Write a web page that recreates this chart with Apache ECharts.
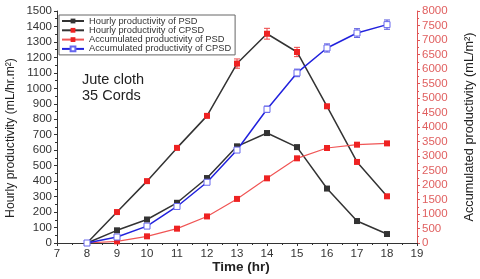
<!DOCTYPE html>
<html><head><meta charset="utf-8">
<script src="https://cdn.jsdelivr.net/npm/echarts@6/dist/echarts.min.js"></script>
<style>html,body{margin:0;padding:0;background:#fff}#c{width:480px;height:279px}</style>
</head><body><div id="c"></div>
<script>
const hours = [8, 9, 10, 11, 12, 13, 14, 15, 16, 17, 18];
const hourlyPSD = [0, 82, 152, 260, 420, 625, 711, 620, 352, 142, 58];
const hourlyCPSD = [0, 200, 400, 615, 822, 1160, 1353, 1235, 884, 524, 302];
const hourlyCPSDErr = [0, 0, 0, 0, 0, 30, 35, 30, 0, 0, 0];
const accumPSD = [0, 57, 230, 494, 916, 1520, 2230, 2920, 3275, 3390, 3435];
const accumCPSD = [0, 206, 583, 1260, 2095, 3205, 4610, 5865, 6725, 7240, 7530];
const accumCPSDErr = [0, 0, 0, 0, 0, 0, 110, 130, 140, 150, 160];
const names = ['Hourly productivity of PSD', 'Hourly productivity of CPSD', 'Accumulated productivity of PSD', 'Accumulated productivity of CPSD'];

const pairs = (ys) => hours.map((h, i) => [h, ys[i]]);
const errData = (ys, es) => hours.map((h, i) => [h, ys[i] - es[i], ys[i] + es[i]]).filter((d, i) => es[i] > 0);

function errRender(color) {
  return function (params, api) {
    const x = api.value(0);
    const lo = api.coord([x, api.value(1)]);
    const hi = api.coord([x, api.value(2)]);
    const w = 3;
    const st = { stroke: color, lineWidth: 1 };
    return { type: 'group', children: [
      { type: 'line', shape: { x1: lo[0], y1: lo[1], x2: hi[0], y2: hi[1] }, style: st },
      { type: 'line', shape: { x1: lo[0] - w, y1: lo[1], x2: lo[0] + w, y2: lo[1] }, style: st },
      { type: 'line', shape: { x1: hi[0] - w, y1: hi[1], x2: hi[0] + w, y2: hi[1] }, style: st }
    ]};
  };
}

const chart = echarts.init(document.getElementById('c'));
const txt = '#333';
const font = 'Liberation Sans, Arial, sans-serif';
const plain = (v) => String(v);
chart.setOption({
  animation: false,
  textStyle: { fontFamily: font },
  grid: { left: 57, right: 63, top: 11, bottom: 36 },
  legend: {
    data: names, orient: 'vertical', left: 59, top: 15,
    itemWidth: 22, itemHeight: 6, itemGap: 0.3,
    padding: [1.5, 4, 1.5, 2], borderColor: '#666', borderWidth: 1,
    textStyle: { fontSize: 9.3, color: '#333' }
  },
  xAxis: [{
    type: 'value', min: 7, max: 19, interval: 1, position: 'bottom',
    axisLine: { lineStyle: { color: '#333' } },
    axisTick: { inside: false, length: 3, lineStyle: { color: '#333' } },
    minorTick: { show: true, splitNumber: 2, length: 2, lineStyle: { color: '#333' } },
    axisLabel: { fontSize: 11.5, color: txt, margin: 5, formatter: plain },
    splitLine: { show: false }
  }, {
    type: 'value', min: 7, max: 19, interval: 1, position: 'top',
    axisLine: { lineStyle: { color: '#333' } },
    axisTick: { inside: true, length: 3, lineStyle: { color: '#333' } },
    minorTick: { show: false },
    axisLabel: { show: false }, splitLine: { show: false }
  }],
  yAxis: [{
    type: 'value', min: 0, max: 1500, interval: 100, position: 'left',
    axisLine: { show: true, lineStyle: { color: '#333' } },
    axisTick: { show: true, length: 3, lineStyle: { color: '#333' } },
    minorTick: { show: true, splitNumber: 2, length: 2, lineStyle: { color: '#333' } },
    axisLabel: { fontSize: 11.5, color: txt, margin: 5, formatter: plain },
    splitLine: { show: false }
  }, {
    type: 'value', min: 0, max: 8000, interval: 500, position: 'right',
    axisLine: { show: true, lineStyle: { color: '#e05555' } },
    axisTick: { show: true, length: 3, lineStyle: { color: '#e05555' } },
    minorTick: { show: true, splitNumber: 2, length: 2, lineStyle: { color: '#e05555' } },
    axisLabel: { fontSize: 11.5, color: '#e06060', margin: 5, formatter: plain },
    splitLine: { show: false }
  }],
  graphic: [{
    type: 'text', left: 82, top: 72,
    style: { text: 'Jute cloth\n35 Cords', fontSize: 14.5, lineHeight: 16, fill: '#222', fontFamily: font }
  }, {
    type: 'text', x: 11, y: 138, rotation: Math.PI / 2,
    style: { text: 'Hourly productivity (mL/hr.m²)', fontSize: 12.2, fill: '#222', fontFamily: font, align: 'center', verticalAlign: 'middle' }
  }, {
    type: 'text', x: 469, y: 127, rotation: Math.PI / 2,
    style: { text: 'Accumulated productivity (mL/m²)', fontSize: 12.7, fill: '#222', fontFamily: font, align: 'center', verticalAlign: 'middle' }
  }, {
    type: 'text', x: 241, y: 267,
    style: { text: 'Time (hr)', fontSize: 13.5, fontWeight: 'bold', fill: '#222', fontFamily: font, align: 'center', verticalAlign: 'middle' }
  }],
  series: [{
    name: names[0], type: 'line', yAxisIndex: 0, data: pairs(hourlyPSD),
    symbol: 'rect', symbolSize: 6,
    lineStyle: { color: '#333', width: 1.5 }, itemStyle: { color: '#333' }
  }, {
    name: names[1], type: 'line', yAxisIndex: 0, data: pairs(hourlyCPSD),
    symbol: 'rect', symbolSize: 6,
    lineStyle: { color: '#333', width: 1.5 }, itemStyle: { color: '#ee2222' }
  }, {
    name: names[2], type: 'line', yAxisIndex: 1, data: pairs(accumPSD),
    symbol: 'rect', symbolSize: 6,
    lineStyle: { color: '#f05555', width: 1.2 }, itemStyle: { color: '#ee2222' }
  }, {
    name: names[3], type: 'line', yAxisIndex: 1, data: pairs(accumCPSD),
    symbol: 'rect', symbolSize: 6,
    lineStyle: { color: '#2222dd', width: 1.5 }, itemStyle: { color: '#fff', borderColor: '#6666ee', borderWidth: 1 }
  }, {
    type: 'custom', yAxisIndex: 0, data: errData(hourlyCPSD, hourlyCPSDErr),
    renderItem: errRender('#ee4444'), z: 1, silent: true
  }, {
    type: 'custom', yAxisIndex: 1, data: errData(accumCPSD, accumCPSDErr),
    renderItem: errRender('#5555dd'), z: 1, silent: true
  }]
});
</script></body></html>
